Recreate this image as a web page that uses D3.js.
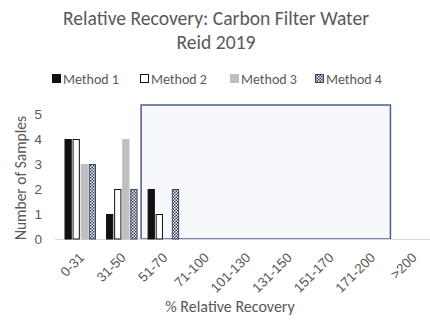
<!DOCTYPE html>
<html>
<head>
<meta charset="utf-8">
<script src="https://cdn.jsdelivr.net/npm/d3@7"></script>
<style>
  body { margin: 0; background: #fff; }
  svg { display: block; font-family: Carlito, "Open Sans", "Liberation Sans", sans-serif; }
</style>
</head>
<body>
<svg id="chart" width="430" height="320" viewBox="0 0 430 320"></svg>
<script>
var categories = ['0-31', '31-50', '51-70', '71-100', '101-130', '131-150', '151-170', '171-200', '>200'];
var methods = ['Method 1', 'Method 2', 'Method 3', 'Method 4'];
var method1 = [4, 1, 2, 0, 0, 0, 0, 0, 0];
var method2 = [4, 2, 1, 0, 0, 0, 0, 0, 0];
var method3 = [3, 4, 0, 0, 0, 0, 0, 0, 0];
var method4 = [3, 2, 2, 0, 0, 0, 0, 0, 0];
var yTicks = [0, 1, 2, 3, 4, 5];
// highlighted range of the x axis
var boxFrom = '51-70';
var boxTo = '171-200';

var series = [method1, method2, method3, method4];

var svg = d3.select('#chart');
var textColor = '#595959';

var defs = svg.append('defs');
var pat = defs.append('pattern').attr('id', 'checks').attr('patternUnits', 'userSpaceOnUse')
  .attr('width', 3).attr('height', 3);
pat.append('rect').attr('width', 3).attr('height', 3).attr('fill', '#fff');
pat.append('rect').attr('width', 1.5).attr('height', 1.5).attr('fill', '#2b3553');
pat.append('rect').attr('x', 1.5).attr('y', 1.5).attr('width', 1.5).attr('height', 1.5).attr('fill', '#2b3553');

var styles = [
  { fill: '#111', stroke: '#111' },
  { fill: '#fff', stroke: '#111' },
  { fill: '#bfbfbf', stroke: '#bfbfbf' },
  { fill: 'url(#checks)', stroke: '#3a4666' }
];

var x = d3.scaleBand().domain(categories).range([58, 432]);
var xm = d3.scaleBand().domain(methods).range([6.5, 38]).paddingInner(0.1);
var y = d3.scaleLinear().domain([0, 5]).range([239, 114]);

// title
svg.append('text').attr('x', 216).attr('y', 25).attr('text-anchor', 'middle')
  .attr('font-size', 19.6).attr('fill', textColor).text('Relative Recovery: Carbon Filter Water');
svg.append('text').attr('x', 216).attr('y', 49).attr('text-anchor', 'middle')
  .attr('font-size', 19.6).attr('fill', textColor).text('Reid 2019');

// highlight box
svg.append('rect')
  .attr('x', x(boxFrom))
  .attr('y', y(5.36))
  .attr('width', x(boxTo) + x.bandwidth() - x(boxFrom))
  .attr('height', y(0) - y(5.36))
  .attr('fill', '#f7f8fb')
  .attr('stroke', '#4b5d94')
  .attr('stroke-width', 1.5);

// axis line
svg.append('line').attr('x1', 55).attr('x2', 430).attr('y1', y(0) + 0.5).attr('y2', y(0) + 0.5)
  .attr('stroke', '#d9d9d9');

// bars
series.forEach(function (vals, i) {
  var g = svg.append('g');
  vals.forEach(function (v, j) {
    if (v <= 0) return;
    g.append('rect')
      .attr('x', x(categories[j]) + xm(methods[i]) + 0.5)
      .attr('y', y(v) + 0.5)
      .attr('width', xm.bandwidth() - 1)
      .attr('height', y(0) - y(v) - 0.5)
      .attr('fill', styles[i].fill)
      .attr('stroke', styles[i].stroke)
      .attr('stroke-width', 1);
  });
});

// y axis labels
var yAxis = d3.axisLeft(y).tickValues(yTicks).tickFormat(d3.format('d')).tickSize(0).tickPadding(0);
var ya = svg.append('g').attr('transform', 'translate(42,0)').call(yAxis);
ya.select('.domain').remove();
ya.selectAll('text').attr('font-size', 13.5).attr('fill', textColor).attr('font-family', null);

// x axis labels
var xAxis = d3.axisBottom(x).tickSize(0).tickPadding(0);
var xa = svg.append('g').attr('transform', 'translate(0,' + y(0) + ')').call(xAxis);
xa.select('.domain').remove();
xa.selectAll('text')
  .attr('font-size', 13.5).attr('fill', textColor).attr('font-family', null)
  .attr('text-anchor', 'end').attr('y', 0).attr('dy', '0.35em')
  .attr('transform', 'translate(3,16) rotate(-45)');

// axis titles
svg.append('text').attr('transform', 'translate(26,178) rotate(-90)').attr('text-anchor', 'middle')
  .attr('font-size', 15.5).attr('fill', textColor).text('Number of Samples');
svg.append('text').attr('x', 230).attr('y', 312).attr('text-anchor', 'middle')
  .attr('font-size', 16).attr('fill', textColor).text('% Relative Recovery');

// legend
var legendX = [52, 140, 230, 315];
var lg = svg.append('g');
methods.forEach(function (m, i) {
  var item = lg.append('g').attr('transform', 'translate(' + legendX[i] + ',79)');
  item.append('rect').attr('x', 0.5).attr('y', -4.5).attr('width', 8).attr('height', 8)
    .attr('fill', styles[i].fill).attr('stroke', styles[i].stroke);
  item.append('text').attr('x', 11).attr('y', 5).attr('font-size', 14).attr('fill', textColor).text(m);
});
</script>
</body>
</html>
